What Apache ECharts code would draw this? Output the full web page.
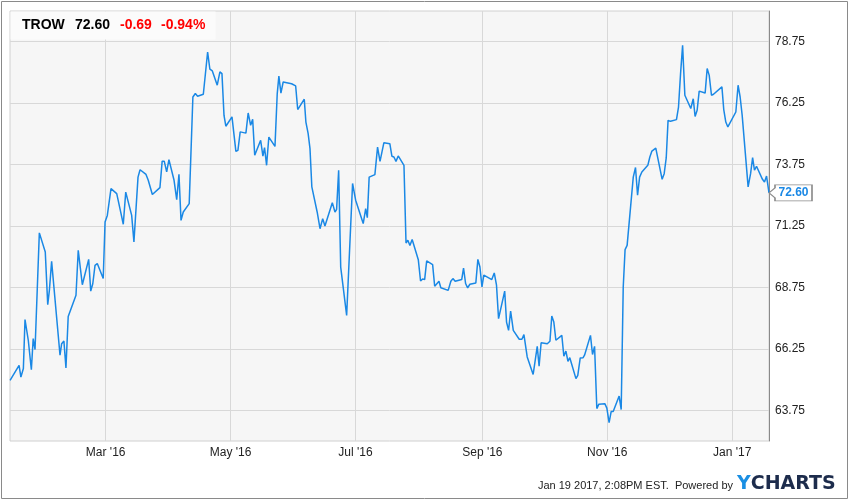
<!DOCTYPE html>
<html><head><meta charset="utf-8">
<script src="https://cdn.jsdelivr.net/npm/echarts@6/dist/echarts.min.js"></script>
<style>html,body{margin:0;padding:0;background:#fff}#c{width:850px;height:501px}</style>
</head><body><div id="c"></div>
<script>
const ticker = 'TROW';
const lastPrice = '72.60';
const change = '-0.69';
const changePct = '-0.94%';
const stamp = 'Jan 19 2017, 2:08PM EST.  Powered by';

// days since 2016-01-01
const dayOffsets = [
13.3,17.7,18.6,19.8,20.6,22.2,23.7,24.6,25.5,27.6,30.5,31.7,32.5,33.6,37.7,38.5,39.6,40.6,41.7,45.5,
46.6,48.6,51.7,52.7,53.7,54.8,55.9,58.8,59.7,60.8,62.6,65.4,67.5,68.6,69.8,72.7,73.8,75.8,76.8,79.7,
80.8,81.6,82.8,86.5,87.6,88.6,89.8,90.9,93.4,94.7,95.8,96.8,97.9,100.8,102.6,103.8,104.9,107.7,109.8,110.9,
112.1,114.5,115.8,116.8,117.8,118.7,121.7,123.6,124.6,125.7,128.5,129.6,130.8,131.8,132.8,135.7,136.8,137.6,138.6,139.7,
142.7,143.8,144.6,145.6,146.7,150.8,152.8,153.8,157.0,157.8,158.9,159.8,160.7,163.3,164.7,166.0,167.1,170.7,172.0,172.8,
173.8,174.8,177.7,180.6,182.1,185.8,187.0,187.8,188.7,191.5,192.8,194.0,195.9,198.8,199.8,200.8,201.8,202.9,205.7,206.7,
207.6,208.6,209.7,212.7,213.8,214.8,215.8,216.8,219.7,220.7,221.6,222.8,223.7,227.3,228.6,229.6,230.7,233.9,234.8,235.8,
236.8,237.9,240.8,241.8,242.8,243.8,244.7,248.6,249.8,250.9,251.9,254.9,255.8,256.8,257.8,259.1,262.0,263.3,264.3,264.9,
265.9,268.8,270.8,271.7,272.7,275.7,277.0,277.9,278.9,279.9,282.8,283.8,284.8,285.8,286.7,289.7,290.6,291.8,293.2,293.9,
296.8,297.8,298.8,299.9,300.9,303.8,304.8,305.9,306.9,307.9,310.8,311.8,312.8,313.7,314.7,317.7,318.8,319.8,320.8,321.9,
324.8,325.8,326.8,328.7,331.8,332.8,333.8,334.7,335.9,338.8,339.8,340.8,341.8,342.9,345.8,347.0,347.9,348.9,349.9,352.8,
353.8,354.8,355.9,356.9,361.0,361.9,362.9,363.9,367.8,368.9,369.9,370.9,373.8,375.0,376.0,376.9,377.9,380.8,381.8,382.8,
384.0
];
const prices = [
64.97,65.58,65.10,65.45,67.44,66.60,65.40,66.67,66.22,70.97,70.19,68.05,68.63,69.81,65.99,66.46,66.57,65.47,67.57,68.43,
70.26,68.86,69.89,68.60,68.90,69.65,69.72,69.11,71.41,71.68,72.77,72.57,71.75,71.32,72.63,71.68,70.60,73.24,73.54,73.35,
73.11,73.08,72.53,72.81,73.89,73.89,73.45,73.95,73.11,72.32,73.35,71.48,71.82,72.16,76.50,76.64,76.53,76.61,78.33,77.63,
77.56,76.98,77.52,77.45,75.75,75.31,75.69,74.29,74.33,75.08,75.03,75.85,75.35,75.59,74.13,74.74,74.09,74.44,73.72,74.87,
74.49,76.64,77.35,76.66,77.11,77.04,76.95,75.99,76.41,75.48,75.01,74.40,72.84,71.82,71.14,71.55,71.25,72.20,71.82,71.93,
73.52,69.58,67.61,72.98,72.30,71.35,71.96,71.59,73.24,73.34,74.46,73.88,74.64,74.60,74.09,74.06,73.88,74.10,73.72,70.56,
70.67,70.46,70.70,69.88,69.01,69.09,69.07,69.83,69.68,68.80,68.81,69.00,68.74,68.63,69.00,69.11,69.00,69.07,69.54,68.91,
68.73,68.88,68.93,69.89,69.58,68.77,69.25,69.07,69.34,68.84,67.48,68.60,67.34,67.00,67.79,67.00,66.64,66.64,66.83,66.80,
65.92,65.21,66.35,65.54,66.50,66.46,66.56,67.59,67.34,66.60,66.80,65.95,66.16,65.74,65.89,65.04,65.17,65.88,65.89,65.99,
66.80,66.02,66.35,63.82,64.00,64.02,63.84,63.25,63.70,63.70,64.33,63.78,68.77,70.29,70.46,73.24,73.63,72.50,73.24,73.45,
73.72,74.06,74.30,74.42,73.15,73.38,74.02,75.55,75.51,75.58,76.09,77.45,78.60,76.57,76.03,76.43,75.71,75.96,76.74,76.66,
77.66,77.38,76.57,76.61,76.91,75.99,75.48,75.28,75.89,76.98,76.50,75.75,72.84,73.38,74.03,73.52,73.68,73.15,73.04,73.28,
72.60
];
const xTickDates = ['2016-03-01','2016-05-01','2016-07-01','2016-09-01','2016-11-01','2017-01-01'];
const xTickLabels = ["Mar '16","May '16","Jul '16","Sep '16","Nov '16","Jan '17"];
const yTickValues = [63.75,66.25,68.75,71.25,73.75,76.25,78.75];
const xStartDay = 13.27;
const xEndDay = 384;

const DAY = 86400000;
const base = Date.UTC(2016,0,1);
const xTicks = xTickDates.map(s => Math.round((new Date(s + 'T00:00:00Z').getTime() - base) / DAY));
const seriesData = dayOffsets.map((d,i)=>[d, prices[i]]);
const FONT = 'Liberation Sans, Arial, sans-serif';
const lineColor = '#1a88e5';

const chart = echarts.init(document.getElementById('c'), null, {renderer:'canvas'});
chart.setOption({
  animation:false,
  backgroundColor:'#ffffff',
  grid:{left:10, top:11, width:759, height:430, show:true, backgroundColor:'#f6f6f6', borderColor:'#d0d0d0', borderWidth:1},
  xAxis:{
    type:'value', min:xStartDay, max:xEndDay,
    axisLine:{show:false},
    axisTick:{show:false, customValues:xTicks},
    axisLabel:{customValues:xTicks, color:'#222', fontSize:12, fontFamily:FONT, margin:6,
      formatter:v=>{const i=xTicks.findIndex(t=>Math.abs(t-v)<0.01); return i>=0?xTickLabels[i]:'';}},
    splitLine:{show:true, lineStyle:{color:'#d8d8d8', width:1}}
  },
  yAxis:{
    type:'value', position:'right', min:62.5, max:80,
    axisLine:{show:true, lineStyle:{color:'#8a8a8a', width:1}},
    axisTick:{show:false, customValues:yTickValues},
    axisLabel:{customValues:yTickValues, color:'#222', fontSize:12, fontFamily:FONT, margin:6,
      formatter:v=>Number(v).toFixed(2)},
    splitLine:{show:true, lineStyle:{color:'#d8d8d8', width:1}}
  },
  series:[{
    type:'line', data:seriesData, showSymbol:false, symbol:'none',
    lineStyle:{color:lineColor, width:1.5}, itemStyle:{color:lineColor},
    markPoint:{
      symbol:'path://M0,8L6,3L6,0L43,0L43,16L6,16L6,13Z',
      symbolSize:[43,16], symbolOffset:[21.5,0], symbolKeepAspect:false,
      itemStyle:{color:'#ffffff', borderColor:'#8a8a8a', borderWidth:1},
      label:{show:true, position:'inside', offset:[3,0], formatter:lastPrice, color:lineColor, fontWeight:'bold', fontSize:12, fontFamily:FONT},
      data:[{coord:seriesData[seriesData.length-1]}]
    }
  }],
  graphic:[
    {type:'rect', shape:{x:1.5,y:1.5,width:846,height:497}, style:{fill:null, stroke:'#8a8a8a', lineWidth:1}, silent:true, z:100},
    {type:'rect', shape:{x:10.5,y:11.5,width:205,height:28}, style:{fill:'#fbfbfb'}, z:50},
    {type:'text', x:22, y:25, style:{text:ticker, font:'bold 14px '+FONT, fill:'#000', verticalAlign:'middle'}, z:51},
    {type:'text', x:75, y:25, style:{text:lastPrice, font:'bold 14px '+FONT, fill:'#000', verticalAlign:'middle'}, z:51},
    {type:'text', x:120, y:25, style:{text:change, font:'bold 14px '+FONT, fill:'#ff0000', verticalAlign:'middle'}, z:51},
    {type:'text', x:161, y:25, style:{text:changePct, font:'bold 14px '+FONT, fill:'#ff0000', verticalAlign:'middle'}, z:51},
    {type:'text', x:733, y:486, style:{text:stamp, font:'11px '+FONT, fill:'#222', align:'right', verticalAlign:'middle'}, z:51},
    {type:'text', x:737, y:484, style:{text:'{y|Y}{c|CHARTS}', verticalAlign:'middle',
      rich:{y:{fill:'#1a8fe3', font:'bold 19px DejaVu Sans'}, c:{fill:'#1d2c4c', font:'bold 19px DejaVu Sans'}}}, z:51}
  ]
});
</script></body></html>
